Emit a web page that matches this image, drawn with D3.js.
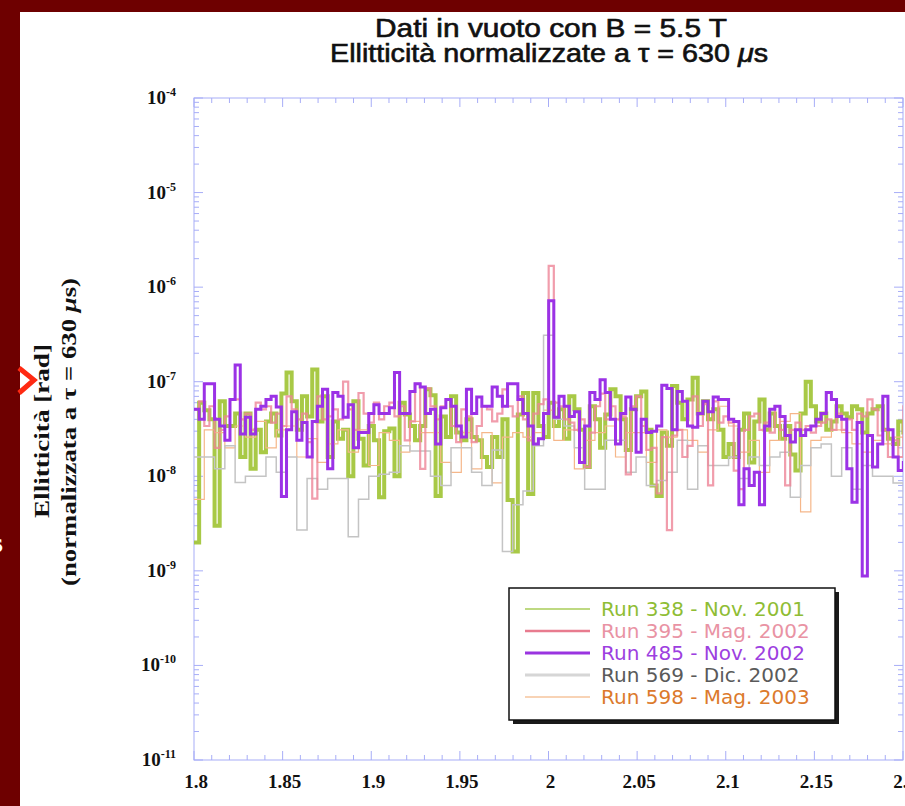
<!DOCTYPE html>
<html>
<head>
<meta charset="utf-8">
<script src="https://cdn.jsdelivr.net/npm/d3@7"></script>
<style>
  html, body { margin: 0; padding: 0; background: #6e0000; }
  svg { display: block; }
</style>
</head>
<body>
<svg id="chart" width="905" height="806"></svg>
<script>
// ---- data -------------------------------------------------------------
// Frequency bins start at 1.8 Hz; fine runs use one bin width, the others twice it.
const xStart = 1.8;
const fineBin = 0.0029;
const coarseBin = 0.0058;

const run338 = [ // Nov. 2001
  2.0e-9, 6.0e-8, 5.0e-8, 4.0e-8, 3.0e-9, 6.2e-8, 3.4e-8, 3.4e-8, 4.6e-8, 1.6e-8,
  4.6e-8, 1.2e-8, 3.1e-8, 1.8e-8, 3.8e-8, 4.6e-8, 2.7e-8, 7.5e-8, 1.25e-7, 6.2e-8,
  3.1e-8, 7.0e-8, 4.3e-8, 1.35e-7, 3.8e-8, 7.0e-8, 1.6e-8, 3.8e-8, 2.5e-8, 3.1e-8,
  1.0e-8, 6.2e-8, 2.5e-8, 1.3e-8, 3.4e-8, 2.4e-8, 6.0e-9, 3.0e-8, 3.2e-8, 1.0e-8,
  6.0e-8, 4.5e-8, 3.4e-8, 2.4e-8, 3.4e-8, 8.3e-8, 7.2e-8, 6.2e-9, 4.3e-8, 2.6e-8,
  7.0e-8, 2.9e-8, 2.4e-8, 4.0e-8, 2.6e-8, 2.4e-8, 1.6e-8, 1.25e-8, 2.6e-8, 1.6e-8,
  4.0e-8, 5.6e-9, 1.6e-9, 4.5e-8, 7.6e-8, 6.5e-9, 7.6e-8, 3.4e-8, 2.6e-8, 6.0e-8,
  3.4e-8, 5.1e-8, 2.5e-8, 7.0e-8, 5.1e-8, 3.1e-8, 1.25e-8, 5.5e-8, 4.0e-8, 2.0e-8,
  4.5e-8, 8.3e-8, 7.0e-8, 4.0e-8, 1.9e-8, 5.1e-8, 7.0e-8, 7.9e-8, 3.1e-8, 8.0e-9,
  6.2e-9, 2.9e-8, 2.1e-8, 9.0e-8, 6.0e-8, 4.0e-8, 6.5e-8, 1.1e-7, 4.6e-8, 6.2e-8,
  4.0e-8, 5.1e-8, 3.1e-8, 1.6e-8, 2.2e-8, 1.6e-8, 3.1e-8, 4.6e-8, 1.4e-8, 3.8e-8,
  6.5e-8, 3.1e-8, 4.6e-8, 3.4e-8, 2.5e-8, 3.4e-8, 1.7e-8, 1.15e-8, 4.6e-8, 1.0e-7,
  5.5e-8, 3.8e-8, 4.6e-8, 3.1e-8, 3.8e-8, 5.5e-8, 4.6e-8, 4.2e-8, 5.5e-8, 5.1e-8,
  2.9e-8, 4.6e-8, 5.1e-8, 5.5e-8, 3.1e-8, 2.5e-8, 2.2e-8, 3.8e-8, 2.9e-8
];

const run395 = [ // Mag. 2002
  5.1e-8, 6.2e-8, 3.4e-8, 5.5e-8, 2.0e-8, 3.1e-8, 4.3e-8, 6.5e-8, 6.5e-8, 4.0e-8,
  4.6e-8, 3.1e-8, 6.0e-8, 5.1e-8, 5.5e-8, 3.7e-8, 4.6e-8, 3.4e-8, 7.0e-8, 5.1e-8,
  4.0e-8, 4.6e-8, 2.3e-8, 5.8e-9, 7.0e-8, 4.0e-8, 4.3e-8, 5.1e-8, 4.0e-8, 1.0e-7,
  5.1e-8, 3.1e-8, 7.6e-8, 4.6e-8, 3.7e-8, 6.0e-8, 4.0e-8, 5.5e-8, 6.0e-8, 4.3e-8,
  5.5e-8, 2.4e-8, 3.8e-8, 9.5e-8, 1.2e-8, 8.5e-8, 5.5e-8, 4.0e-8, 5.5e-8, 6.5e-8,
  3.4e-8, 2.3e-8, 5.1e-8, 4.3e-8, 2.3e-8, 3.4e-8, 5.5e-8, 5.1e-8, 3.8e-8, 4.6e-8,
  8.3e-8, 5.5e-8, 4.3e-8, 7.0e-8, 4.0e-8, 2.4e-8, 4.6e-8, 5.8e-8, 6.5e-8, 1.68e-6,
  6.0e-8, 5.5e-8, 4.0e-8, 3.7e-8, 3.1e-8, 4.0e-8, 1.25e-8, 2.9e-8, 5.5e-8, 7.5e-8,
  4.0e-8, 5.5e-8, 4.0e-8, 4.3e-8, 1.05e-8, 5.5e-8, 7.0e-8, 3.4e-8, 1.9e-8, 2.0e-8,
  6.6e-9, 2.6e-8, 2.7e-9, 2.7e-8, 3.1e-8, 1.6e-8, 2.1e-8, 7.0e-8, 3.4e-8, 5.8e-8,
  8.0e-9, 6.2e-8, 3.7e-8, 4.3e-8, 3.7e-8, 1.15e-8, 7.3e-9, 3.1e-8, 4.3e-8, 4.6e-8,
  3.1e-8, 3.7e-8, 2.9e-8, 5.5e-8, 3.1e-8, 8.0e-9, 3.1e-8, 3.7e-8, 3.1e-8, 3.4e-8,
  2.9e-8, 3.4e-8, 3.7e-8, 4.0e-8, 3.1e-8, 4.6e-8, 3.1e-8, 4.0e-8, 3.1e-8, 4.6e-8,
  4.3e-8, 6.5e-8, 5.1e-8, 2.7e-8, 3.1e-8, 1.6e-8, 2.4e-8, 1.6e-8, 5.5e-8, 3.1e-8
];

const run485 = [ // Nov. 2002
  5.1e-8, 4.0e-8, 9.5e-8, 9.5e-8, 4.0e-8, 3.4e-8, 2.4e-8, 6.5e-8, 1.5e-7, 2.8e-8,
  4.2e-8, 2.8e-8, 5.1e-8, 5.5e-8, 6.5e-8, 7.0e-8, 5.4e-8, 6.1e-9, 3.1e-8, 4.8e-8,
  2.4e-8, 3.7e-8, 1.6e-8, 3.8e-8, 5.5e-8, 8.3e-8, 1.2e-8, 7.7e-8, 7.0e-8, 4.2e-8,
  5.7e-8, 2.0e-8, 2.9e-8, 2.9e-8, 4.6e-8, 5.7e-8, 4.6e-8, 4.6e-8, 5.3e-8, 1.25e-7,
  4.6e-8, 4.6e-8, 7.9e-8, 9.5e-8, 8.8e-8, 4.6e-8, 5.1e-8, 2.2e-8, 5.3e-8, 6.5e-8,
  5.5e-8, 3.4e-8, 2.6e-8, 8.3e-8, 4.6e-8, 6.9e-8, 5.5e-8, 5.5e-8, 8.8e-8, 7.0e-8,
  5.5e-8, 9.5e-8, 9.5e-8, 6.5e-8, 4.6e-8, 3.4e-8, 2.2e-8, 2.5e-8, 4.6e-8, 7.2e-7,
  4.2e-8, 7.0e-8, 5.5e-8, 4.3e-8, 4.8e-8, 1.4e-8, 3.4e-8, 7.7e-8, 6.5e-8, 1.05e-7,
  7.7e-8, 4.0e-8, 2.2e-8, 4.6e-8, 6.9e-8, 5.1e-8, 1.8e-8, 4.0e-8, 2.9e-8, 3.0e-8,
  3.4e-8, 9.2e-8, 8.5e-8, 3.1e-8, 7.9e-8, 6.2e-8, 3.4e-8, 3.3e-8, 4.6e-8, 6.2e-8,
  4.8e-8, 6.9e-8, 6.5e-8, 6.5e-8, 4.0e-8, 3.8e-8, 5.0e-9, 1.2e-8, 8.0e-9, 1.1e-8,
  5.0e-9, 3.4e-8, 5.1e-8, 5.5e-8, 4.3e-8, 2.7e-8, 2.3e-8, 3.1e-8, 2.7e-8, 3.1e-8,
  3.4e-8, 4.0e-8, 4.6e-8, 7.7e-8, 6.5e-8, 4.3e-8, 4.0e-8, 1.2e-8, 5.3e-9, 3.7e-8,
  8.8e-10, 2.7e-8, 1.25e-8, 2.2e-8, 7.0e-8, 3.1e-8, 1.6e-8, 1.15e-8, 1.4e-8
];

const run569 = [ // Dic. 2002
  1.6e-8, 1.6e-8, 1.2e-8, 2.1e-8, 8.6e-9, 1.0e-8, 1.0e-8, 1.6e-8, 1.1e-8, 1.6e-8,
  2.7e-9, 9.5e-9, 7.3e-9, 9.5e-9, 9.5e-9, 2.3e-9, 5.7e-9, 1.0e-8, 1.05e-8, 1.1e-8,
  2.1e-8, 1.85e-8, 1.85e-8, 1.0e-8, 8.0e-9, 2.0e-8, 2.0e-8, 1.1e-8, 8.0e-9, 1.9e-8,
  1.6e-9, 5.0e-9, 7.0e-9, 2.1e-8, 3.1e-7, 4.0e-8, 3.4e-8, 2.0e-8, 7.3e-9, 7.3e-9,
  2.4e-8, 2.4e-8, 1.1e-8, 1.6e-8, 8.0e-9, 9.0e-9, 1.1e-8, 2.4e-8, 7.3e-9, 2.1e-8,
  1.3e-8, 1.3e-8, 1.6e-8, 9.5e-9, 1.6e-8, 1.3e-8, 1.6e-8, 1.8e-8, 6.0e-9, 1.3e-8,
  2.0e-8, 2.2e-8, 1.0e-8, 2.0e-8, 7.3e-9, 1.3e-8, 1.0e-8, 1.0e-8, 8.5e-9, 3.5e-9
];

const run598 = [ // Mag. 2003
  5.7e-9, 3.1e-8, 2.9e-8, 2.0e-8, 3.4e-8, 2.6e-8, 3.8e-8, 2.0e-8, 3.1e-8, 3.4e-8,
  1.6e-8, 2.5e-8, 1.4e-8, 2.2e-8, 3.1e-8, 1.8e-8, 3.1e-8, 1.3e-8, 2.9e-8, 2.4e-8,
  1.8e-8, 3.8e-8, 2.9e-8, 2.9e-8, 1.4e-8, 1.1e-8, 2.9e-8, 1.2e-8, 2.9e-8, 8.5e-9,
  2.6e-8, 2.9e-8, 2.6e-8, 2.9e-8, 5.0e-8, 2.4e-8, 3.1e-8, 1.2e-8, 2.4e-8, 2.9e-8,
  3.4e-8, 1.6e-8, 2.9e-8, 2.9e-8, 1.4e-8, 3.1e-8, 2.6e-8, 3.1e-8, 2.4e-8, 1.8e-8,
  3.1e-8, 5.5e-8, 3.4e-8, 1.8e-8, 2.4e-8, 1.1e-8, 2.4e-8, 3.8e-8, 4.6e-8, 4.2e-9,
  2.4e-8, 2.6e-8, 3.1e-8, 2.9e-8, 2.2e-8, 1.8e-8, 2.4e-8, 2.2e-8, 2.6e-8, 2.4e-8
];

const seriesLabels = [
  "Run 338 - Nov. 2001",
  "Run 395 - Mag. 2002",
  "Run 485 - Nov. 2002",
  "Run 569 - Dic. 2002",
  "Run 598 - Mag. 2003"
];

const xTickValues = [1.8, 1.85, 1.9, 1.95, 2, 2.05, 2.1, 2.15, 2.2];
const xTickLabels = ["1.8", "1.85", "1.9", "1.95", "2", "2.05", "2.1", "2.15", "2.2"];
const yDecades = [-11, -10, -9, -8, -7, -6, -5, -4];

// ---- styling per run ---------------------------------------------------
const runs = [
  { label: seriesLabels[0], values: run338, bin: fineBin,   stroke: "#a3c63c", width: 4,   opacity: 0.95,
    legendStroke: "#a9cc58", legendWidth: 1.5, text: "#8fbd34" },
  { label: seriesLabels[1], values: run395, bin: fineBin,   stroke: "#ee8497", width: 2.2, opacity: 0.8,
    legendStroke: "#e87b8f", legendWidth: 2.5, text: "#e993a4" },
  { label: seriesLabels[2], values: run485, bin: fineBin,   stroke: "#9b32e6", width: 3,   opacity: 1,
    legendStroke: "#9a34e0", legendWidth: 3,   text: "#9d3fe0" },
  { label: seriesLabels[3], values: run569, bin: coarseBin, stroke: "#c4c4c4", width: 1.5, opacity: 1,
    legendStroke: "#d6d6d6", legendWidth: 3,   text: "#5a5a5a" },
  { label: seriesLabels[4], values: run598, bin: coarseBin, stroke: "#f5b78a", width: 1.2, opacity: 1,
    legendStroke: "#f6c49c", legendWidth: 1.5, text: "#dc7a2c" }
];
const drawOrder = [0, 4, 3, 1, 2];

// ---- layout ------------------------------------------------------------
const svg = d3.select("#chart");
const W = 905, H = 806;
const plot = { left: 194, right: 903, top: 98, bottom: 760 };
const axisColor = "#a7adf7";

// white page area inside the dark frame
svg.append("rect").attr("x", 0).attr("y", 0).attr("width", W).attr("height", H).attr("fill", "#6e0000");
svg.append("rect").attr("x", 20).attr("y", 12).attr("width", W - 20).attr("height", H - 12).attr("fill", "#ffffff");

const x = d3.scaleLinear().domain([1.8, 2.2]).range([plot.left, plot.right]);
const y = d3.scaleLog().domain([1e-11, 1e-4]).range([plot.bottom, plot.top]);

// ---- title -------------------------------------------------------------
const title = svg.append("g")
  .attr("font-family", "'Liberation Sans', Arial, Helvetica, sans-serif")
  .attr("font-size", 25)
  .attr("fill", "#111")
  .attr("stroke", "#111")
  .attr("stroke-width", 0.6)
  .attr("text-anchor", "middle");
title.append("text").attr("x", 551).attr("y", 37)
  .attr("textLength", 352).attr("lengthAdjust", "spacingAndGlyphs")
  .text("Dati in vuoto con B = 5.5 T");
const t2 = title.append("text").attr("x", 549).attr("y", 62)
  .attr("textLength", 438).attr("lengthAdjust", "spacingAndGlyphs");
t2.append("tspan").text("Ellitticità normalizzate a τ = 630 ");
t2.append("tspan").attr("font-style", "italic").text("μ");
t2.append("tspan").text("s");

// ---- axis frame and ticks ----------------------------------------------
const axes = svg.append("g").attr("stroke", axisColor).attr("stroke-width", 1).attr("fill", "none");
axes.append("rect")
  .attr("x", plot.left).attr("y", plot.top)
  .attr("width", plot.right - plot.left).attr("height", plot.bottom - plot.top);

// x ticks every 0.01, longer at every 0.05
const xMinor = d3.range(0, 41).map(i => +(1.8 + i * 0.01).toFixed(2));
xMinor.forEach(v => {
  const major = Math.round(v * 100) % 5 === 0;
  const len = major ? 9 : 5;
  const px = x(v);
  axes.append("line").attr("x1", px).attr("x2", px).attr("y1", plot.bottom).attr("y2", plot.bottom - len);
  axes.append("line").attr("x1", px).attr("x2", px).attr("y1", plot.top).attr("y2", plot.top + len);
});

// y ticks: decades plus 2..9 subdivisions
y.ticks().forEach(v => {
  const e = Math.log10(v);
  const major = Math.abs(e - Math.round(e)) < 1e-9;
  const len = major ? 9 : 5;
  const py = y(v);
  axes.append("line").attr("x1", plot.left).attr("x2", plot.left + len).attr("y1", py).attr("y2", py);
  axes.append("line").attr("x1", plot.right).attr("x2", plot.right - len).attr("y1", py).attr("y2", py);
});

// ---- tick labels ---------------------------------------------------------
const tickFont = "'Liberation Serif', 'Times New Roman', Times, serif";
const xl = svg.append("g").attr("font-family", tickFont).attr("font-weight", "bold")
  .attr("font-size", 19).attr("fill", "#111").attr("text-anchor", "middle");
xTickValues.forEach((v, i) => {
  xl.append("text").attr("x", x(v) + 2).attr("y", 788).text(xTickLabels[i]);
});

const yl = svg.append("g").attr("font-family", tickFont).attr("font-weight", "bold")
  .attr("fill", "#111").attr("text-anchor", "end");
yDecades.forEach(d => {
  const py = y(Math.pow(10, d));
  const t = yl.append("text").attr("x", 176).attr("y", py + 6).attr("font-size", 19);
  t.append("tspan").text("10");
  t.append("tspan").attr("font-size", 12).attr("dy", -8).text(String(d));
});

// ---- y axis title ----------------------------------------------------------
const yt = svg.append("g").attr("font-family", tickFont).attr("font-weight", "bold")
  .attr("font-size", 22).attr("fill", "#111").attr("text-anchor", "middle");
yt.append("text").attr("transform", "translate(49,431) rotate(-90)")
  .attr("textLength", 174).attr("lengthAdjust", "spacingAndGlyphs")
  .text("Ellitticità [rad]");
const yt2 = yt.append("text").attr("transform", "translate(76,432) rotate(-90)")
  .attr("textLength", 308).attr("lengthAdjust", "spacingAndGlyphs");
yt2.append("tspan").text("(normalizzata a τ = 630 ");
yt2.append("tspan").attr("font-style", "italic").text("μ");
yt2.append("tspan").text("s)");

// ---- histogram step lines -------------------------------------------------
svg.append("clipPath").attr("id", "plotClip")
  .append("rect").attr("x", plot.left).attr("y", plot.top)
  .attr("width", plot.right - plot.left).attr("height", plot.bottom - plot.top);

const step = d3.line()
  .x(d => x(d[0]))
  .y(d => y(d[1]))
  .curve(d3.curveStepAfter);

function binOutline(values, bin) {
  const pts = values.map((v, i) => [xStart + i * bin, v]);
  pts.push([xStart + values.length * bin, values[values.length - 1]]);
  return pts;
}

const lines = svg.append("g").attr("clip-path", "url(#plotClip)");
drawOrder.forEach(k => {
  const r = runs[k];
  lines.append("path")
    .attr("d", step(binOutline(r.values, r.bin)))
    .attr("fill", "none")
    .attr("stroke", r.stroke)
    .attr("stroke-width", r.width)
    .attr("stroke-opacity", r.opacity)
    .attr("stroke-linejoin", "miter");
});

// ---- legend ----------------------------------------------------------------
const lg = svg.append("g");
const box = { x: 509, y: 588, w: 326, h: 132 };
lg.append("rect").attr("x", box.x + 4).attr("y", box.y + 4).attr("width", box.w).attr("height", box.h)
  .attr("fill", "#1a1a1a");
lg.append("rect").attr("x", box.x).attr("y", box.y).attr("width", box.w).attr("height", box.h)
  .attr("fill", "#ffffff").attr("stroke", "#111").attr("stroke-width", 1.5);
runs.forEach((r, i) => {
  const cy = 609 + i * 22;
  lg.append("line").attr("x1", 525).attr("x2", 590).attr("y1", cy).attr("y2", cy)
    .attr("stroke", r.legendStroke).attr("stroke-width", r.legendWidth);
  lg.append("text").attr("x", 601).attr("y", cy + 7)
    .attr("font-family", "'DejaVu Sans', Verdana, sans-serif")
    .attr("font-size", 20).attr("fill", r.text)
    .text(r.label);
});

// ---- slide decorations at the left edge -----------------------------------
svg.append("path")
  .attr("d", "M19,368 L34,380 L19,393")
  .attr("fill", "none").attr("stroke", "#ff2a12").attr("stroke-width", 5)
  .attr("stroke-linejoin", "miter");
svg.append("text").attr("x", -8).attr("y", 552)
  .attr("font-family", tickFont).attr("font-size", 28).attr("font-weight", "bold")
  .attr("fill", "#ffffff").text("s");
</script>
</body>
</html>
